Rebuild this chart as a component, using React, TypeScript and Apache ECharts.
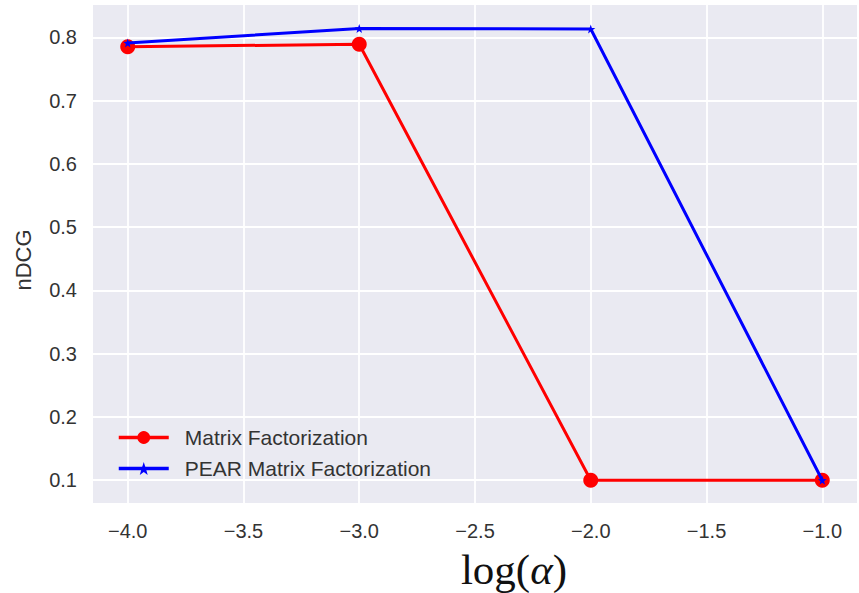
import React, { useEffect, useRef } from "react";
import * as echarts from "echarts";

const logAlpha = [-4.0, -3.0, -2.0, -1.0];
const mfValues = [0.785, 0.789, 0.1, 0.1];
const pearValues = [0.791, 0.814, 0.813, 0.1];
const xTicks = [-4.0, -3.5, -3.0, -2.5, -2.0, -1.5, -1.0];
const yTicks = [0.1, 0.2, 0.3, 0.4, 0.5, 0.6, 0.7, 0.8];
const seriesNames = ["Matrix Factorization", "PEAR Matrix Factorization"];

const FONT = "'Liberation Sans', Arial, sans-serif";
const TXT = "#333333";

export default function App() {
  const ref = useRef<HTMLDivElement>(null);
  useEffect(() => {
    const chart = echarts.init(ref.current!, null, { renderer: "svg" });
    const fmt = (v: number) => v.toFixed(1).replace("-", "\u2212");
    chart.setOption({
      animation: false,
      backgroundColor: "#ffffff",
      grid: { left: 93, right: 2, top: 5, bottom: 90, show: true, backgroundColor: "#EAEAF2", borderWidth: 0 },
      xAxis: {
        type: "value",
        min: -4.15,
        max: -0.85,
        axisLine: { show: false },
        axisTick: { show: false, customValues: xTicks },
        axisLabel: { customValues: xTicks, formatter: fmt, fontSize: 20, color: TXT, fontFamily: FONT, margin: 18 },
        splitLine: { show: true, lineStyle: { color: "#ffffff", width: 1.8 } },
      },
      yAxis: {
        type: "value",
        min: 0.064,
        max: 0.851,
        axisLine: { show: false },
        axisTick: { show: false, customValues: yTicks },
        axisLabel: { customValues: yTicks, formatter: fmt, fontSize: 20, color: TXT, fontFamily: FONT, margin: 16 },
        splitLine: { show: true, lineStyle: { color: "#ffffff", width: 1.8 } },
      },
      legend: {
        left: 112,
        top: 422,
        orient: "vertical",
        itemWidth: 50,
        itemHeight: 16,
        itemGap: 10,
        data: seriesNames.map((n) => ({ name: n, lineStyle: { width: 3.5 } })),
        textStyle: { fontSize: 21, color: TXT, fontFamily: FONT, padding: [0, 0, 0, 11] },
      },
      graphic: [
        {
          type: "text",
          x: 23,
          y: 260,
          rotation: Math.PI / 2,
          style: { text: "nDCG", fontSize: 22, fill: TXT, fontFamily: FONT, textAlign: "center", textVerticalAlign: "middle" },
        },
        {
          type: "text",
          x: 514,
          y: 569,
          style: {
            text: "{a|log(}{b|\u03B1}{a|)}",
            textAlign: "center",
            textVerticalAlign: "middle",
            rich: {
              a: { fontSize: 43, fontFamily: "'Liberation Serif', 'DejaVu Serif', serif", fill: "#111" },
              b: { fontSize: 43, fontFamily: "'Liberation Serif', 'DejaVu Serif', serif", fontStyle: "italic", fill: "#111" },
            },
          },
        },
      ],
      series: [
        {
          name: seriesNames[0],
          type: "line",
          data: logAlpha.map((x, i) => [x, mfValues[i]]),
          symbol: "circle",
          symbolSize: 15,
          itemStyle: { color: "#ff0000" },
          lineStyle: { color: "#ff0000", width: 3 },
          z: 2,
        },
        {
          name: seriesNames[1],
          type: "line",
          data: logAlpha.map((x, i) => [x, pearValues[i]]),
          symbol: "path://M0,-10 L2.35,-3.24 L9.51,-3.09 L3.8,1.24 L5.88,8.09 L0,4 L-5.88,8.09 L-3.8,1.24 L-9.51,-3.09 L-2.35,-3.24 Z",
          symbolSize: 9,
          itemStyle: { color: "#0000ff" },
          lineStyle: { color: "#0000ff", width: 3 },
          z: 3,
        },
      ],
    });
    return () => chart.dispose();
  }, []);
  return <div ref={ref} style={{ position: "fixed", left: 0, top: 0, width: 859, height: 593 }} />;
}
